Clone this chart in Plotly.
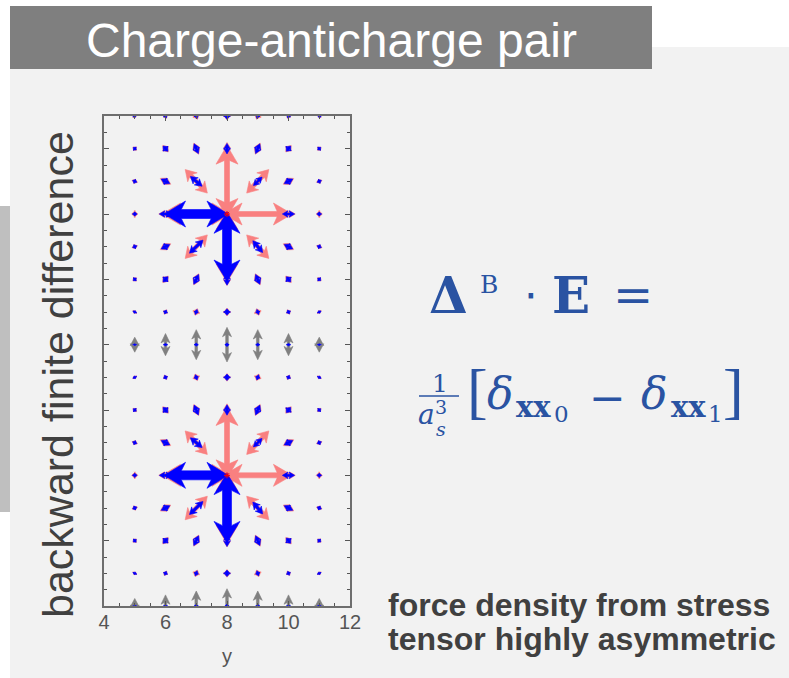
import plotly.graph_objects as go

# ---------------- data ----------------
x_ticks = [4, 6, 8, 10, 12]
y_major = [0, 2, 4, 6, 8, 10, 12, 14]
charge_x = [8, 8]
charge_y = [12, 4]

# grid-node offsets from a charge, and half-extent vectors of the double-headed arrows
pink_dx = [-3, -2, -1, 0, 1, 2, 3,
           -3, -2, -1, 0, 1, 2, 3,
           -3, -2, -1, 0, 1, 2, 3,
           -3, -2, -1, 1, 2, 3,
           -3, -2, -1, 0, 1, 2, 3,
           -3, -2, -1, 0, 1, 2, 3,
           -3, -2, -1, 0, 1, 2, 3]
pink_dy = [3, 3, 3, 3, 3, 3, 3,
           2, 2, 2, 2, 2, 2, 2,
           1, 1, 1, 1, 1, 1, 1,
           0, 0, 0, 0, 0, 0,
           -1, -1, -1, -1, -1, -1, -1,
           -2, -2, -2, -2, -2, -2, -2,
           -3, -3, -3, -3, -3, -3, -3]
pink_u = [-0.03, -0.04, -0.04, 0.0, 0.04, 0.04, 0.03,
          -0.06, -0.09, -0.08, 0.0, 0.08, 0.09, 0.06,
          -0.09, -0.17, -0.36, 0.0, 0.36, 0.17, 0.09,
          -0.10, -0.22, -1.12, 1.12, 0.22, 0.10,
          -0.09, -0.17, -0.36, 0.0, 0.36, 0.17, 0.09,
          -0.06, -0.09, -0.08, 0.0, 0.08, 0.09, 0.06,
          -0.03, -0.04, -0.04, 0.0, 0.04, 0.04, 0.03]
pink_v = [0.04, 0.07, 0.10, 0.12, 0.10, 0.07, 0.04,
          0.05, 0.10, 0.17, 0.19, 0.17, 0.10, 0.05,
          0.03, 0.09, 0.36, 1.10, 0.36, 0.09, 0.03,
          0.0, 0.0, 0.0, 0.0, 0.0, 0.0,
          -0.03, -0.09, -0.36, -1.10, -0.36, -0.09, -0.03,
          -0.05, -0.10, -0.17, -0.19, -0.17, -0.10, -0.05,
          -0.04, -0.07, -0.10, -0.12, -0.10, -0.07, -0.04]

blue_dx = [-3, -2, -1, 0, 1, 2, 3,
           -3, -2, -1, 0, 1, 2, 3,
           -3, -2, -1, 1, 2, 3,
           -3, -2, -1, 2, 3,
           -3, -2, -1, 0, 1, 2, 3,
           -3, -2, -1, 0, 1, 2, 3,
           -3, -2, -1, 0, 1, 2, 3]
blue_dy = [3, 3, 3, 3, 3, 3, 3,
           2, 2, 2, 2, 2, 2, 2,
           1, 1, 1, 1, 1, 1,
           0, 0, 0, 0, 0,
           -1, -1, -1, -1, -1, -1, -1,
           -2, -2, -2, -2, -2, -2, -2,
           -3, -3, -3, -3, -3, -3, -3]
blue_u = [-0.02, -0.03, -0.03, 0.0, 0.03, 0.03, 0.02,
          -0.05, -0.08, -0.07, 0.0, 0.07, 0.07, 0.05,
          -0.07, -0.14, -0.19, 0.14, 0.14, 0.07,
          -0.08, -0.20, -1.04, 0.20, 0.08,
          -0.07, -0.14, -0.22, 0.0, 0.16, 0.14, 0.07,
          -0.05, -0.08, -0.08, 0.0, 0.07, 0.07, 0.05,
          -0.02, -0.03, -0.03, 0.0, 0.03, 0.03, 0.02]
blue_v = [0.04, 0.06, 0.08, 0.10, 0.08, 0.06, 0.04,
          0.04, 0.08, 0.15, 0.16, 0.15, 0.08, 0.04,
          0.03, 0.07, 0.15, 0.13, 0.07, 0.03,
          0.0, 0.0, 0.0, 0.0, 0.0,
          -0.03, -0.07, -0.20, -1.06, -0.18, -0.07, -0.03,
          -0.04, -0.08, -0.15, -0.18, -0.15, -0.08, -0.04,
          -0.04, -0.06, -0.08, -0.10, -0.08, -0.06, -0.04]

# gray arrows on the rows midway between charges (the y=0 row is cut by the axis)
gray_x = [5, 6, 7, 8, 9, 10, 11]
gray_half = [0.23, 0.34, 0.46, 0.53, 0.46, 0.34, 0.23]
gray_rows = [8, 0]
dot_half = [0.03, 0.04, 0.05, 0.06, 0.05, 0.04, 0.03]

# ---------------- geometry / style ----------------
W, H = 789, 678
PL, PR, PT, PB = 104, 350, 116, 606
X_RANGE = [4, 12]
Y_RANGE = [0, 15]
SX = (PR - PL) / (X_RANGE[1] - X_RANGE[0])   # px per data unit
SY = (PB - PT) / (Y_RANGE[1] - Y_RANGE[0])

PINK = "rgb(249,128,128)"
BLUE = "#0000ff"
GRAY = "#808080"
EQ = "#2a53a2"
TXT = "#404040"

# (shaft width, head width, head length) in px for big / medium / small / tiny arrows
STYLES = {
    PINK: [(5.0, 22.0, 15.0), (4.2, 13.0, 8.5), (2.4, 7.0, 4.5), (2.0, 4.5, 2.5)],
    BLUE: [(9.0, 26.0, 17.0), (2.6, 8.0, 5.5), (2.2, 6.5, 4.5), (2.0, 4.0, 2.5)],
    GRAY: [(2.6, 9.0, 7.5)] * 4,
}


def pxx(x):
    return (x - PL) / (PR - PL)


def pxy(y):
    return (PB - y) / (PB - PT)


def style_for(half_px, color):
    s = STYLES[color]
    if half_px > 25:
        return s[0]
    if half_px > 7:
        return s[1]
    if half_px > 3:
        return s[2]
    return s[3]


def arrow_polygon(xc, yc, u, v, style):
    """Outline of a double-headed arrow centred on (xc, yc) spanning +-(u, v),
    built in pixel space and mapped back to data units."""
    ux, uy = u * SX, v * SY
    half = (ux * ux + uy * uy) ** 0.5
    if half == 0:
        return [], []
    dx, dy = ux / half, uy / half
    nx, ny = -dy, dx
    w, hw, hl = style
    hl = min(hl, half * 0.9)
    barb = hl * 0.25
    a = half
    pts = [(a, 0), (a - hl - barb, hw / 2), (a - hl, w / 2),
           (-a + hl, w / 2), (-a + hl + barb, hw / 2), (-a, 0),
           (-a + hl + barb, -hw / 2), (-a + hl, -w / 2),
           (a - hl, -w / 2), (a - hl - barb, -hw / 2), (a, 0)]
    xs = [xc + (p * dx + q * nx) / SX for p, q in pts]
    ys = [yc + (p * dy + q * ny) / SY for p, q in pts]
    return xs, ys


def collect(centres_x, centres_y, us, vs, color):
    X, Y = [], []
    for xc, yc, u, v in zip(centres_x, centres_y, us, vs):
        half = ((u * SX) ** 2 + (v * SY) ** 2) ** 0.5
        xs, ys = arrow_polygon(xc, yc, u, v, style_for(half, color))
        if xs:
            X += xs + [None]
            Y += ys + [None]
    return X, Y


pink_cx, pink_cy, pu, pv = [], [], [], []
for cx, cy in zip(charge_x, charge_y):
    for dx, dy, u, v in zip(pink_dx, pink_dy, pink_u, pink_v):
        pink_cx.append(cx + dx); pink_cy.append(cy + dy); pu.append(u); pv.append(v)
blue_cx, blue_cy, bu, bv = [], [], [], []
for cx, cy in zip(charge_x, charge_y):
    for dx, dy, u, v in zip(blue_dx, blue_dy, blue_u, blue_v):
        blue_cx.append(cx + dx); blue_cy.append(cy + dy); bu.append(u); bv.append(v)
gray_cx, gray_cy, gu, gv, dot_cx, dot_cy, du, dv = [], [], [], [], [], [], [], []
for gy in gray_rows:
    for gx, gh, dh in zip(gray_x, gray_half, dot_half):
        gray_cx.append(gx); gray_cy.append(gy); gu.append(0.0); gv.append(gh)
        dot_cx.append(gx); dot_cy.append(gy); du.append(0.0); dv.append(dh)

fig = go.Figure()
for (cxs, cys, us, vs, color) in [
        (pink_cx, pink_cy, pu, pv, PINK),
        (blue_cx, blue_cy, bu, bv, BLUE),
        (gray_cx, gray_cy, gu, gv, GRAY),
        (dot_cx, dot_cy, du, dv, BLUE)]:
    X, Y = collect(cxs, cys, us, vs, color)
    fig.add_trace(go.Scatter(x=X, y=Y, mode="lines", fill="toself",
                             fillcolor=color, line=dict(color=color, width=0.6),
                             hoverinfo="skip", connectgaps=False))

fig.add_trace(go.Scatter(x=charge_x, y=charge_y, mode="markers",
                         marker=dict(symbol="asterisk-open", size=5,
                                     color="red", line=dict(color="red", width=1)),
                         hoverinfo="skip"))

# ---------------- texts ----------------
annotations = []


def txt(text, x, y, size, color, family="DejaVu Serif", angle=0, xanchor="center"):
    annotations.append(dict(
        text=text, x=pxx(x), y=pxy(y), xref="paper", yref="paper",
        xanchor=xanchor, yanchor="middle", showarrow=False, textangle=angle,
        font=dict(family=family, size=size, color=color)))


SANS = "Liberation Sans, Arial, sans-serif"
txt("Charge-anticharge pair", 331, 41, 48, "white", SANS)
txt("backward finite difference", 58, 375, 43, TXT, SANS, angle=-90)
txt("<b>force density from stress</b>", 386, 605, 32, TXT, SANS, xanchor="left")
txt("<b>tensor highly asymmetric</b>", 386, 639, 32, TXT, SANS, xanchor="left")

# equation  Δ^B · E =
txt("<b>Δ</b>", 448, 295, 50, EQ)
txt("B", 489, 284, 25, EQ)
txt("⋅", 531, 295, 44, EQ, "DejaVu Sans, sans-serif")
txt("<b>E</b>", 571, 295, 50, EQ)
txt("=", 633, 295, 48, EQ)
# (1/a_s^3) [ δ_xx0 − δ_xx1 ]
txt("1", 440, 383, 25, EQ)
txt("<i>a</i>", 426, 414, 28, EQ)
txt("3", 441, 407, 19, EQ)
txt("<i>s</i>", 441, 429, 19, EQ)
txt("[", 477, 391, 62, EQ, "Liberation Serif, serif")
txt("<i>δ</i>", 500, 393, 44, EQ)
txt("<b>xx</b>", 533, 407, 29, EQ)
txt("0", 561, 414, 23, EQ)
txt("−", 607, 397, 44, EQ, "DejaVu Sans, sans-serif")
txt("<i>δ</i>", 654, 393, 44, EQ)
txt("<b>xx</b>", 688, 407, 29, EQ)
txt("1", 715, 414, 23, EQ)
txt("]", 733, 391, 62, EQ, "Liberation Serif, serif")

# ---------------- background shapes ----------------
shapes = [
    dict(type="rect", xref="paper", yref="paper", layer="below",
         x0=pxx(10), x1=pxx(789), y0=pxy(678), y1=pxy(47),
         fillcolor="#f2f2f2", line=dict(width=0)),
    dict(type="rect", xref="paper", yref="paper", layer="below",
         x0=pxx(10), x1=pxx(652), y0=pxy(69), y1=pxy(6),
         fillcolor="#7f7f7f", line=dict(width=0)),
    dict(type="rect", xref="paper", yref="paper", layer="below",
         x0=pxx(0), x1=pxx(10), y0=pxy(512), y1=pxy(206),
         fillcolor="#bfbfbf", line=dict(width=0)),
    dict(type="line", xref="paper", yref="paper",
         x0=pxx(419), x1=pxx(459), y0=pxy(396), y1=pxy(396),
         line=dict(color=EQ, width=1.4)),
]

axis_common = dict(showline=True, linecolor="#6e6e6e", linewidth=1.5,
                   mirror="allticks", showgrid=False, zeroline=False,
                   ticks="inside", tickcolor="#555", tickwidth=1)
fig.update_layout(
    width=W, height=H,
    margin=dict(l=PL, r=W - PR, t=PT, b=H - PB),
    paper_bgcolor="white", plot_bgcolor="#f2f2f2", showlegend=False,
    xaxis=dict(range=X_RANGE, tickvals=x_ticks, ticklen=5,
               minor=dict(dtick=0.5, ticks="inside", ticklen=3, tickcolor="#555"),
               tickfont=dict(family=SANS, size=20, color="#555"),
               ticklabelstandoff=-3,
               title=dict(text="y", font=dict(family=SANS, size=20, color="#555"),
                          standoff=17),
               **axis_common),
    yaxis=dict(range=Y_RANGE, tickvals=y_major, ticklen=5, showticklabels=False,
               minor=dict(dtick=0.5, ticks="inside", ticklen=3, tickcolor="#555"),
               **axis_common),
    annotations=annotations,
    shapes=shapes,
)

fig.write_html("out.html", config={"displayModeBar": False},
               post_script="document.body.style.margin='0';")
